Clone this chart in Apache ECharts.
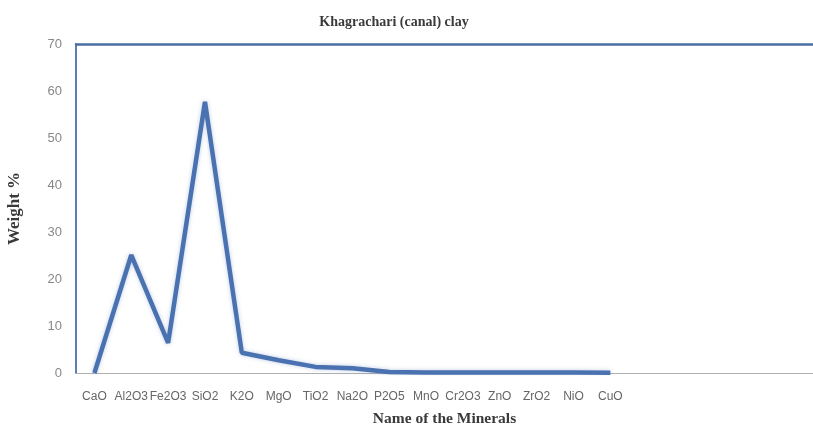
<!DOCTYPE html>
<html><head><meta charset="utf-8">
<script src="https://cdn.jsdelivr.net/npm/echarts@6/dist/echarts.min.js"></script>
<style>html,body{margin:0;padding:0;background:#fff}#c{width:813px;height:425px}</style>
</head><body><div id="c"></div>
<script>
var categories = ['CaO','Al2O3','Fe2O3','SiO2','K2O','MgO','TiO2','Na2O','P2O5','MnO','Cr2O3','ZnO','ZrO2','NiO','CuO','','','','',''];
var weights = [0, 25.1, 6.4, 57.7, 4.3, 2.7, 1.3, 1.0, 0.2, 0.1, 0.1, 0.1, 0.1, 0.1, 0.05, null, null, null, null, null];
var yTicks = [0, 10, 20, 30, 40, 50, 60, 70];

var chart = echarts.init(document.getElementById('c'));
chart.setOption({
  animation: false,
  title: {text: 'Khagrachari (canal) clay', left: 389, top: 10, textAlign: 'center',
    textStyle: {fontFamily: 'Liberation Serif', fontWeight: 'bold', fontSize: 14, color: '#3a3a3a'}},
  grid: {left: 76, right: 0, top: 44, bottom: 52, containLabel: false, outerBoundsMode: 'none'},
  xAxis: [{
    type: 'category', data: categories, boundaryGap: true,
    name: 'Name of the Minerals', nameLocation: 'middle', nameGap: 38,
    nameTextStyle: {fontFamily: 'Liberation Serif', fontWeight: 'bold', fontSize: 15.5, color: '#3a3a3a'},
    axisLine: {lineStyle: {color: '#b0b0b0', width: 1}},
    axisTick: {show: false},
    axisLabel: {interval: 0, fontFamily: 'Liberation Sans', fontSize: 12, color: '#666', margin: 18}
  }, {
    type: 'category', data: categories, position: 'top',
    axisLine: {lineStyle: {color: '#4a6fa5', width: 2.5}},
    axisTick: {show: false}, axisLabel: {show: false}
  }],
  yAxis: {
    type: 'value', min: yTicks[0], max: yTicks[yTicks.length - 1], interval: 10,
    name: 'Weight %', nameLocation: 'middle', nameGap: 53, nameRotate: 90,
    nameTextStyle: {fontFamily: 'Liberation Serif', fontWeight: 'bold', fontSize: 17, color: '#3a3a3a'},
    axisLine: {show: true, lineStyle: {color: '#5b7fb5', width: 2}},
    axisTick: {show: false},
    splitLine: {show: false},
    axisLabel: {fontFamily: 'Liberation Sans', fontSize: 13, color: '#888', margin: 14}
  },
  series: [{
    type: 'line', data: weights, showSymbol: false, smooth: false,
    lineStyle: {color: '#4a72b0', width: 4.5, shadowColor: 'rgba(74,114,176,0.35)', shadowBlur: 4},
    itemStyle: {color: '#4a72b0'}
  }]
});
</script></body></html>
